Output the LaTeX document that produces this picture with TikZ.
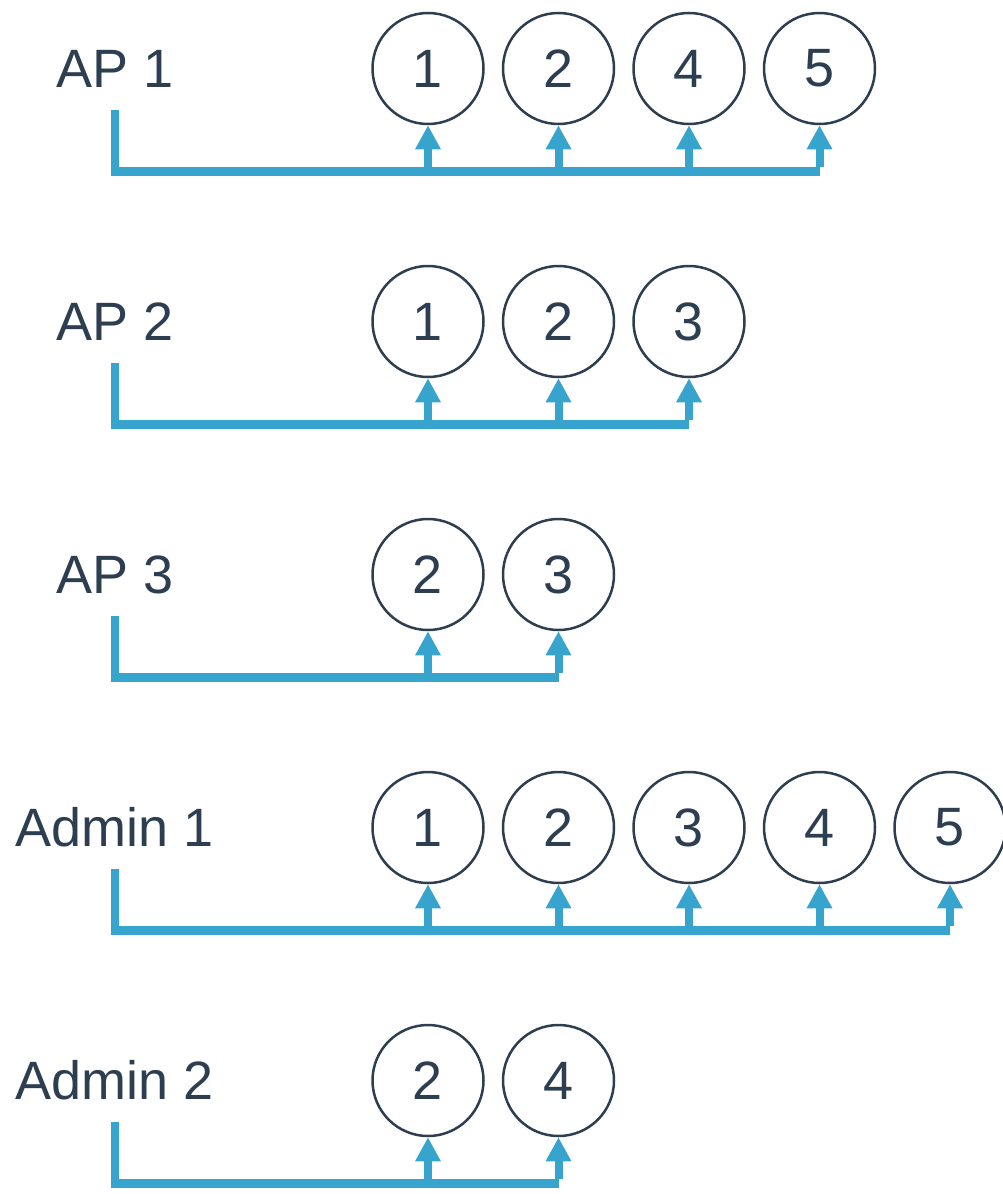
\documentclass[tikz,border=0pt]{standalone}
\usepackage{fontspec}
\setmainfont{Liberation Sans}
\usetikzlibrary{arrows.meta}
\definecolor{ink}{HTML}{2C3E50}
\definecolor{wire}{HTML}{36A4CD}
\tikzset{
  circ/.style={circle, draw=ink, line width=2.5pt, minimum size=111pt, inner sep=0pt, text=ink, font=\fontsize{54}{60}\selectfont},
  lbl/.style={anchor=base, text=ink, inner sep=0pt, font=\fontsize{54}{60}\selectfont},
  bus/.style={draw=wire, line width=8.5pt, line join=miter, line cap=butt},
  up/.style={draw=wire, line width=8pt, line cap=butt, -{Triangle[width=24pt 0 0,length=24pt 0 0]}}
}
\begin{document}
\begin{tikzpicture}[x=1pt,y=-1pt]
\useasboundingbox (0,0) rectangle (1002,1194);
\foreach \r/\name/\items in {
  0/AP 1/{1/1,2/2,3/4,4/5},
  1/AP 2/{1/1,2/2,3/3},
  2/AP 3/{1/2,2/3},
  3/Admin 1/{1/1,2/2,3/3,4/4,5/5},
  4/Admin 2/{1/2,2/4}}{
  \pgfmathsetmacro{\dy}{253*\r}
  \node[lbl] (L\r) at (115,87+\dy) {\name};
  \coordinate (S\r) at (115,110+\dy);
  \coordinate (H\r) at (115,171.5+\dy);
  \foreach \i/\t in \items {
    \node[circ] (C\r-\i) at (428+130.5*\i-130.5,68.5+\dy) {\t};
    \coordinate (E\r) at (C\r-\i.south |- H\r);
  }
  \draw[bus] (S\r) -- (H\r) -- (E\r);
  \foreach \i/\t in \items {
    \draw[up] ([yshift=4.25pt]C\r-\i.south |- H\r) -- (C\r-\i.south);
  }
}
\end{tikzpicture}
\end{document}
